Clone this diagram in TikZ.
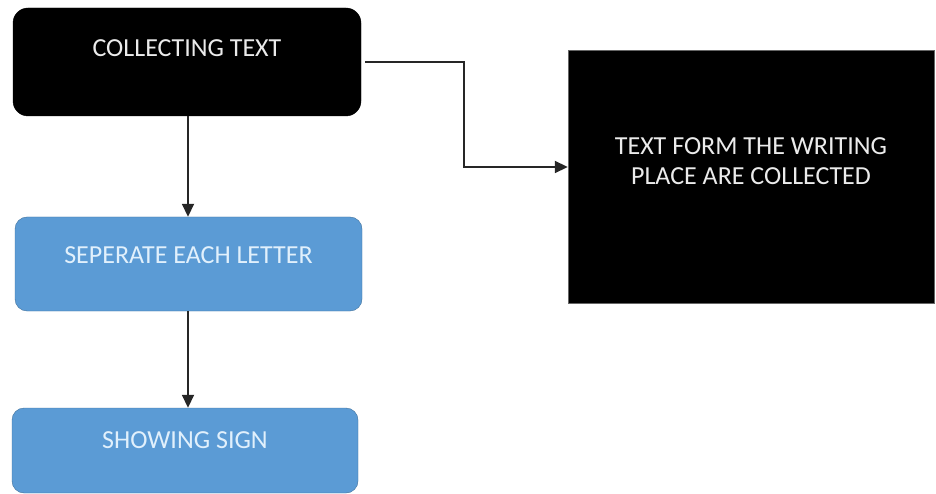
\documentclass[tikz,border=0pt]{standalone}
\usepackage{fontspec}
\setmainfont{Carlito}
\usetikzlibrary{arrows.meta}
\definecolor{boxblue}{RGB}{91,155,213}
\definecolor{boxedge}{RGB}{65,113,156}
\definecolor{paletext}{RGB}{225,240,252}

\begin{document}
\begin{tikzpicture}[x=1pt, y=-1pt,
		blackbox/.style={draw=black, fill=black, rounded corners=15pt, text=white!92!black, font=\fontsize{26}{30}\selectfont, minimum width=348pt, minimum height=108pt, inner sep=0pt},
		bluebox/.style={draw=boxedge, fill=boxblue, rounded corners=12pt, text=paletext, font=\fontsize{26}{30}\selectfont, minimum width=347pt, inner sep=0pt},
		plainbox/.style={draw=black!60, fill=black, text=white!92!black, font=\fontsize{26}{30}\selectfont, align=center, minimum width=366pt, minimum height=253pt, inner sep=0pt},
		arr/.style={draw=black!85, line width=1.8pt, -{Triangle[length=13pt,width=12pt]}}]
		%%%%% START %%%%%
		\useasboundingbox (0, 0) rectangle (936, 494);
		
		\node[blackbox, text height=16pt, text depth=26pt] (collect) at (187, 62) {COLLECTING TEXT};
		\node[bluebox, minimum height=94pt, text height=16pt, text depth=18pt] (separate) at (188.5, 264) {SEPERATE EACH LETTER};
		\node[bluebox, minimum height=85pt, minimum width=346pt, text height=16pt, text depth=20pt] (showing) at (185, 450.5) {SHOWING SIGN};
		\node[plainbox, text height=40pt, text depth=23pt] (collected) at (751, 176.5) {TEXT FORM THE WRITING\\PLACE ARE COLLECTED};
		
		\draw[arr] (collect.south -| 188, 0) -- (separate.north -| 188, 0);
		\draw[arr] (separate.south -| 188, 0) -- (showing.north -| 188, 0);
		\draw[arr] ([xshift=4pt]collect.east) -- ++(99, 0) |- ([yshift=9.5pt]collected.west);
		%%%%% END %%%%%
	\end{tikzpicture}
\end{document}
